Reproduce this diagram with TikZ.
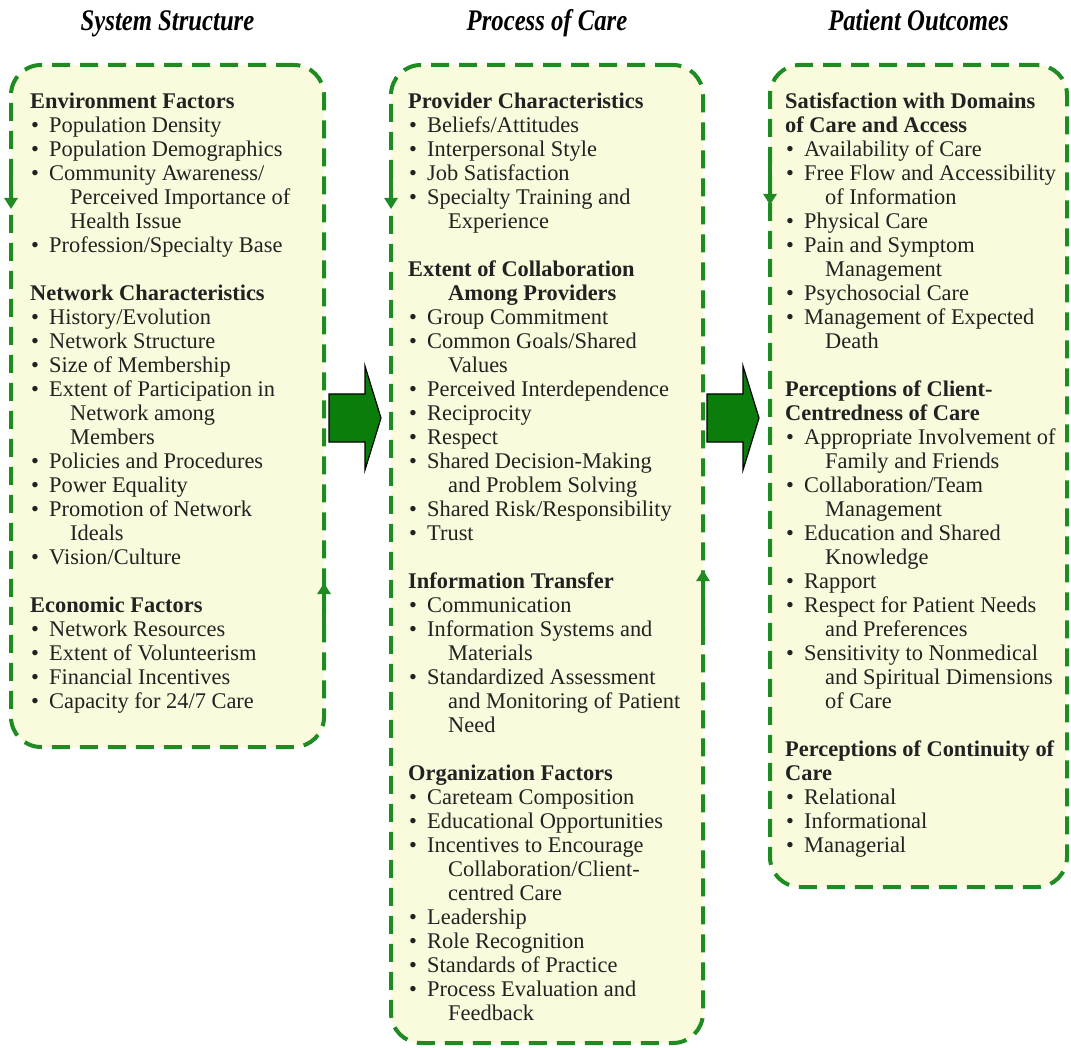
\documentclass[tikz,border=0pt]{standalone}
\usepackage{fontspec}
\setmainfont{Liberation Serif}
\usepackage{graphicx}
\usetikzlibrary{arrows.meta,positioning,calc}
\definecolor{dgrn}{HTML}{1E8B23}
\definecolor{bgy}{HTML}{FAFADC}
\definecolor{agrn}{HTML}{0B7D0B}
\definecolor{ink}{HTML}{222222}
\newcommand{\bitem}[1]{\makebox[19pt][l]{\hspace{1pt}\textbullet}#1}
\newcommand{\contd}[1]{\hspace*{40pt}#1}
\tikzset{
  panel/.style={draw=dgrn,line width=4pt,dash pattern=on 18pt off 10pt,rounded corners=30pt,fill=bgy,outer sep=0pt,inner sep=0pt,anchor=north west},
  txt/.style={anchor=north west,align=left,inner sep=0pt,text=ink,font=\fontsize{22.4}{24}\selectfont},
  ttl/.style={anchor=base,inner sep=0pt,font=\fontsize{26}{30}\selectfont\bfseries\itshape},
  side/.style={-{Triangle[length=11pt,width=13pt]},line width=4pt,draw=dgrn},
  blk/.style={draw=black,line width=1.2pt,fill=agrn,line join=miter},
}

\begin{document}
\begin{tikzpicture}[x=1pt,y=-1pt]
\useasboundingbox (0,0) rectangle (1071,1048);
\node[panel,minimum width=313pt,minimum height=682pt] (sys) at (11,65) {};
\node[panel,minimum width=312pt,minimum height=978pt] (proc) at (391,65) {};
\node[panel,minimum width=297pt,minimum height=822pt] (pat) at (770,65) {};
\node[ttl] (tsys) at ([yshift=34pt]sys.north) {\scalebox{0.95}[1.15]{System Structure}};
\node[ttl] (tproc) at ([yshift=34pt]proc.north) {\scalebox{0.95}[1.15]{Process of Care}};
\node[ttl] (tpat) at ([yshift=34pt]pat.north) {\scalebox{0.95}[1.15]{Patient Outcomes}};
\node[txt] (systxt) at ([xshift=19pt,yshift=-28pt]sys.north west) {\textbf{Environment Factors}\\
 \bitem{Population Density}\\
 \bitem{Population Demographics}\\
 \bitem{Community Awareness/}\\
 \contd{Perceived Importance of}\\
 \contd{Health Issue}\\
 \bitem{Profession/Specialty Base}\\[24pt]
 \textbf{Network Characteristics}\\
 \bitem{History/Evolution}\\
 \bitem{Network Structure}\\
 \bitem{Size of Membership}\\
 \bitem{Extent of Participation in}\\
 \contd{Network among}\\
 \contd{Members}\\
 \bitem{Policies and Procedures}\\
 \bitem{Power Equality}\\
 \bitem{Promotion of Network}\\
 \contd{Ideals}\\
 \bitem{Vision/Culture}\\[24pt]
 \textbf{Economic Factors}\\
 \bitem{Network Resources}\\
 \bitem{Extent of Volunteerism}\\
 \bitem{Financial Incentives}\\
 \bitem{Capacity for 24/7 Care}};
\node[txt] (proctxt) at ([xshift=17pt,yshift=-28pt]proc.north west) {\textbf{Provider Characteristics}\\
 \bitem{Beliefs/Attitudes}\\
 \bitem{Interpersonal Style}\\
 \bitem{Job Satisfaction}\\
 \bitem{Specialty Training and}\\
 \contd{Experience}\\[24pt]
 \textbf{Extent of Collaboration}\\
 \contd{\textbf{Among Providers}}\\
 \bitem{Group Commitment}\\
 \bitem{Common Goals/Shared}\\
 \contd{Values}\\
 \bitem{Perceived Interdependence}\\
 \bitem{Reciprocity}\\
 \bitem{Respect}\\
 \bitem{Shared Decision-Making}\\
 \contd{and Problem Solving}\\
 \bitem{Shared Risk/Responsibility}\\
 \bitem{Trust}\\[24pt]
 \textbf{Information Transfer}\\
 \bitem{Communication}\\
 \bitem{Information Systems and}\\
 \contd{Materials}\\
 \bitem{Standardized Assessment}\\
 \contd{and Monitoring of Patient}\\
 \contd{Need}\\[24pt]
 \textbf{Organization Factors}\\
 \bitem{Careteam Composition}\\
 \bitem{Educational Opportunities}\\
 \bitem{Incentives to Encourage}\\
 \contd{Collaboration/Client-}\\
 \contd{centred Care}\\
 \bitem{Leadership}\\
 \bitem{Role Recognition}\\
 \bitem{Standards of Practice}\\
 \bitem{Process Evaluation and}\\
 \contd{Feedback}};
\node[txt] (pattxt) at ([xshift=15pt,yshift=-28pt]pat.north west) {\textbf{Satisfaction with Domains}\\
 \textbf{of Care and Access}\\
 \bitem{Availability of Care}\\
 \bitem{Free Flow and Accessibility}\\
 \contd{of Information}\\
 \bitem{Physical Care}\\
 \bitem{Pain and Symptom}\\
 \contd{Management}\\
 \bitem{Psychosocial Care}\\
 \bitem{Management of Expected}\\
 \contd{Death}\\[24pt]
 \textbf{Perceptions of Client-}\\
 \textbf{Centredness of Care}\\
 \bitem{Appropriate Involvement of}\\
 \contd{Family and Friends}\\
 \bitem{Collaboration/Team}\\
 \contd{Management}\\
 \bitem{Education and Shared}\\
 \contd{Knowledge}\\
 \bitem{Rapport}\\
 \bitem{Respect for Patient Needs}\\
 \contd{and Preferences}\\
 \bitem{Sensitivity to Nonmedical}\\
 \contd{and Spiritual Dimensions}\\
 \contd{of Care}\\[24pt]
 \textbf{Perceptions of Continuity of}\\
 \textbf{Care}\\
 \bitem{Relational}\\
 \bitem{Informational}\\
 \bitem{Managerial}};
\draw[side] ([yshift=-98pt]sys.north west) -- ([yshift=-144pt]sys.north west);
\draw[side] ([yshift=-98pt]proc.north west) -- ([yshift=-144pt]proc.north west);
\draw[side] ([yshift=-97pt]pat.north west) -- ([yshift=-140pt]pat.north west);
\draw[side] ([yshift=-567pt]sys.north east) -- ([yshift=-518pt]sys.north east);
\draw[side] ([yshift=-580pt]proc.north east) -- ([yshift=-505pt]proc.north east);
\foreach \xa in {329,707}
  \draw[blk] (\xa,394) -- ++(36,0) -- ++(0,-28) -- ++(16,52) -- ++(-16,52) -- ++(0,-28) -- ++(-36,0) -- cycle;
\end{tikzpicture}
\end{document}
